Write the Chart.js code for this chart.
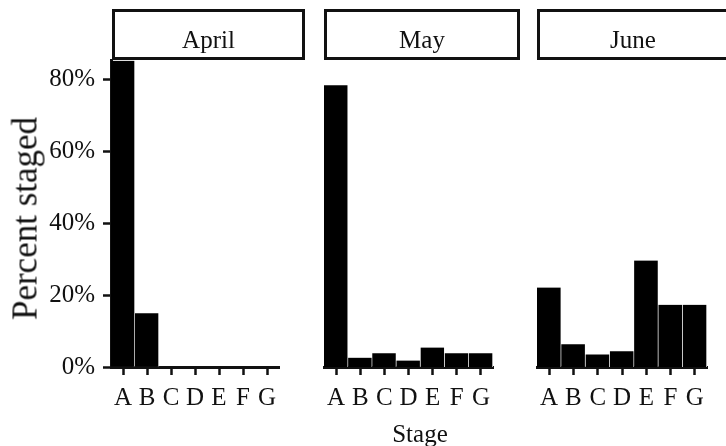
<!DOCTYPE html>
<html>
<head>
<meta charset="utf-8">
<script src="https://cdn.jsdelivr.net/npm/chart.js@4/dist/chart.umd.min.js"></script>
<style>
  html, body { margin: 0; padding: 0; background: #fff; }
  #wrap { position: relative; width: 726px; height: 446px; overflow: hidden;
          font-family: "Liberation Serif", "Times New Roman", serif; color: #111; }
  #wrap canvas { position: absolute; left: 0; top: 0; }
  .strip { position: absolute; box-sizing: border-box; border: 3px solid #111; background: #fff; }
  .strip-text { position: absolute; font-size: 25px; line-height: 25px; text-align: center; white-space: nowrap; }
  .title { position: absolute; white-space: nowrap; text-align: center; }
</style>
</head>
<body>
<div id="wrap">
  <canvas id="c0" width="726" height="446"></canvas>
  <canvas id="c1" width="726" height="446"></canvas>
  <canvas id="c2" width="726" height="446"></canvas>

  <div class="strip" style="left:112px; top:9px; width:193px; height:51px;"></div>
  <div class="strip" style="left:324px; top:9px; width:196px; height:51px;"></div>
  <div class="strip" style="left:537px; top:9px; width:200px; height:51px;"></div>
  <div class="strip-text" style="left:112px; width:193px; top:27px;">April</div>
  <div class="strip-text" style="left:324px; width:196px; top:27px;">May</div>
  <div class="strip-text" style="left:537px; width:192px; top:27px;">June</div>

  <div class="title" style="left:320px; width:200px; top:421px; font-size:25px; line-height:25px;">Stage</div>
  <div class="title" style="left:-125px; width:300px; top:200.5px; font-size:35px; line-height:35px; transform:rotate(-90deg);">Percent staged</div>
</div>

<script>
const stages = ["A", "B", "C", "D", "E", "F", "G"]
const months = ["April", "May", "June"]

// percent of fish at each stage, per month
const aprilPct = [85.1, 14.9, 0, 0, 0, 0, 0]
const mayPct = [78.3, 2.6, 3.8, 1.8, 5.4, 3.8, 3.8]
const junePct = [22.1, 6.3, 3.5, 4.4, 29.6, 17.3, 17.3]

const yTicks = [0, 20, 40, 60, 80]
const yMax = 85.3

Chart.defaults.font.family = "'Liberation Serif', 'Times New Roman', serif"
Chart.defaults.color = "#111"

// panel placement: [left, right] edges of each plot area
const panels = [
  { id: "c0", data: aprilPct, left: 111, right: 279, showY: true },
  { id: "c1", data: mayPct, left: 324, right: 493, showY: false },
  { id: "c2", data: junePct, left: 537, right: 707, showY: false }
]

function makePanel(p) {
  const ctx = document.getElementById(p.id).getContext("2d")
  return new Chart(ctx, {
    type: "bar",
    data: {
      labels: stages,
      datasets: [{
        data: p.data,
        backgroundColor: "#000",
        borderColor: "#fff",
        borderWidth: { left: 0, right: 1, top: 0, bottom: 0 },
        borderSkipped: false,
        categoryPercentage: 1,
        barPercentage: 1
      }]
    },
    options: {
      responsive: false,
      animation: false,
      layout: {
        padding: { left: p.showY ? 0 : p.left, right: 726 - p.right, top: 60, bottom: 34 }
      },
      plugins: { legend: { display: false }, tooltip: { enabled: false } },
      scales: {
        x: {
          offset: true,
          grid: { offset: false, drawOnChartArea: false, tickLength: 8, tickWidth: 2.5, color: "#111" },
          border: { display: true, color: "#111", width: 3 },
          ticks: { font: { size: 25 }, padding: 8, maxRotation: 0, autoSkip: false },
          afterFit: s => { s.height = 45 }
        },
        y: {
          display: p.showY,
          min: 0,
          max: yMax,
          afterBuildTicks: s => { s.ticks = yTicks.map(v => ({ value: v })) },
          grid: { drawOnChartArea: false, tickLength: 8, tickWidth: 2.5, color: "#111" },
          border: { display: true, color: "#111", width: 3 },
          ticks: { font: { size: 25 }, padding: 8, callback: v => v + "%" },
          afterFit: s => { if (p.showY) s.width = p.left }
        }
      }
    }
  })
}

panels.forEach(makePanel)
</script>
</body>
</html>
